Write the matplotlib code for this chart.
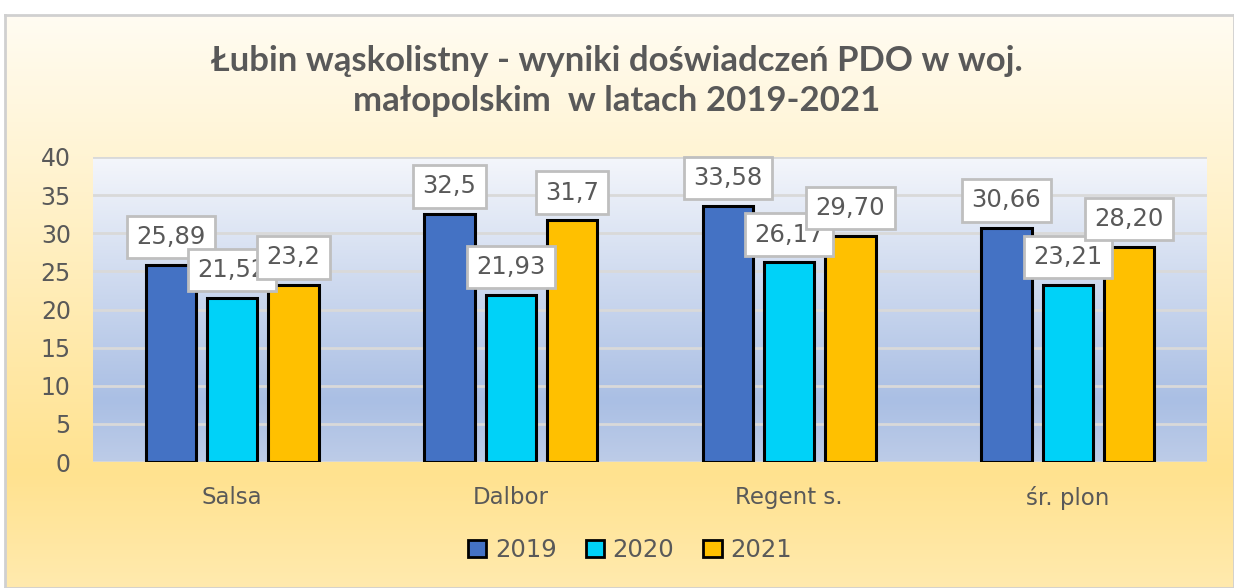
import numpy as np
import matplotlib
matplotlib.use("Agg")
import matplotlib.pyplot as plt
from matplotlib.colors import LinearSegmentedColormap
from matplotlib.patches import Patch

categories = ["Salsa", "Dalbor", "Regent s.", "śr. plon"]
series_names = ["2019", "2020", "2021"]
v2019 = [25.89, 32.5, 33.58, 30.66]
v2020 = [21.52, 21.93, 26.17, 23.21]
v2021 = [23.2, 31.7, 29.70, 28.20]
labels2019 = ["25,89", "32,5", "33,58", "30,66"]
labels2020 = ["21,52", "21,93", "26,17", "23,21"]
labels2021 = ["23,2", "31,7", "29,70", "28,20"]
colors = ["#4472C4", "#00D2F8", "#FFC000"]
title = "Łubin wąskolistny - wyniki doświadczeń PDO w woj.\nmałopolskim  w latach 2019-2021"

W, H = 1234, 588
fig = plt.figure(figsize=(W / 100, H / 100), dpi=100)

# chart area background
bg = fig.add_axes([5 / W, 0, 1 - 5 / W, 1 - 15 / H], zorder=-5)
bg_cmap = LinearSegmentedColormap.from_list(
    "bg", [(0, "#FFFCF2"), (0.8, "#FFE28F"), (1.0, "#FFEAAE")])
grad = np.linspace(0, 1, 256).reshape(-1, 1)
bg.imshow(grad, aspect="auto", cmap=bg_cmap, extent=[0, 1, 0, 1], origin="upper")
bg.set_xlim(0, 1)
bg.set_ylim(0, 1)
for s in bg.spines.values():
    s.set_color("#D0D0D0")
    s.set_linewidth(2)
bg.set_xticks([])
bg.set_yticks([])

ax = fig.add_axes([93 / W, 126 / H, 1114 / W, 305 / H])
pa_cmap = LinearSegmentedColormap.from_list(
    "pa", [(0, "#F4F6FB"), (0.8, "#AABFE4"), (1.0, "#BDCCE8")])
ax.imshow(grad, aspect="auto", cmap=pa_cmap, extent=[-0.5, 3.5, 0, 40],
          origin="upper", zorder=0)
ax.set_xlim(-0.5, 3.5)
ax.set_ylim(0, 40)
ax.set_yticks(np.arange(0, 41, 5))
ax.grid(axis="y", color="#D9D9D9", linewidth=2, zorder=1)
ax.set_axisbelow(False)
for s in ax.spines.values():
    s.set_visible(False)

x = np.arange(len(categories))
offsets = [-0.22, 0, 0.22]
width = 0.18
all_vals = [v2019, v2020, v2021]
all_labels = [labels2019, labels2020, labels2021]
for i, (vals, labs) in enumerate(zip(all_vals, all_labels)):
    bars = ax.bar(x + offsets[i], vals, width, color=colors[i],
                  edgecolor="black", linewidth=2.2, zorder=3)
    for b, lab in zip(bars, labs):
        ax.annotate(lab, (b.get_x() + b.get_width() / 2, b.get_height()),
                    xytext=(0, 20), textcoords="offset points",
                    ha="center", va="center", fontsize=17.5, color="#595959",
                    zorder=5,
                    bbox=dict(boxstyle="square,pad=0.38", fc="white",
                              ec="#BFBFBF", lw=2))

ax.set_xticks(x)
ax.set_xticklabels(categories, fontsize=16.5, color="#595959")
ax.tick_params(axis="x", length=0, pad=17)
ax.tick_params(axis="y", length=0, pad=16, labelsize=17, labelcolor="#595959")

fig.text(617 / W, 1 - 81 / H, title, ha="center", va="center",
         fontsize=25, fontweight="bold", color="#595959", family="Lato",
         linespacing=1.3)

handles = [Patch(facecolor=c, edgecolor="black", linewidth=2) for c in colors]
fig.legend(handles, series_names, loc="center", bbox_to_anchor=(630 / W, 1 - 550 / H),
           ncol=3, frameon=False, fontsize=17.5, handlelength=0.75, handleheight=0.75,
           handletextpad=0.35, columnspacing=1.2, labelcolor="#595959")

fig.savefig("out.png", dpi=100)
